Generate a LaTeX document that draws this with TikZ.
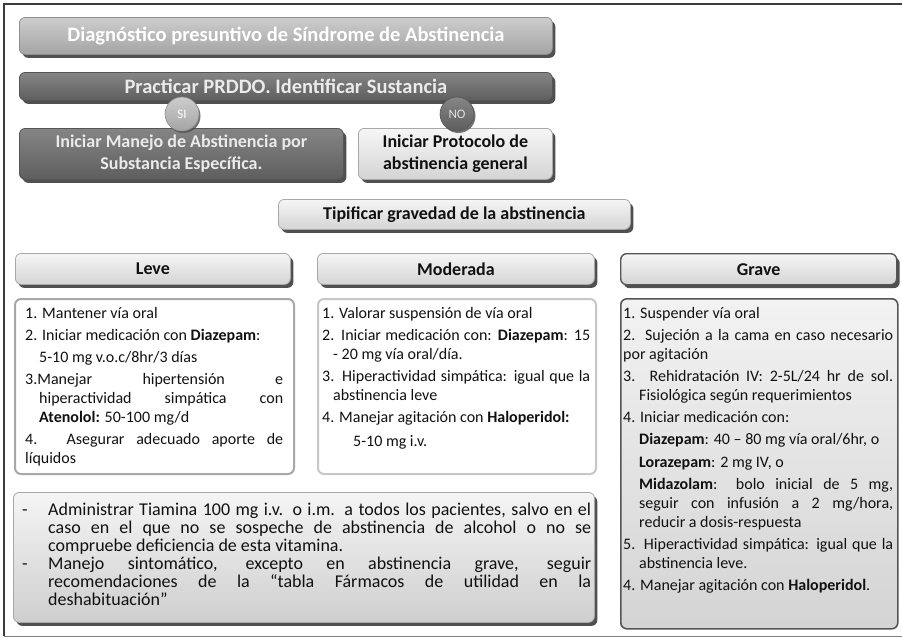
\documentclass[tikz,border=0pt]{standalone}
\usepackage{fontspec}
\setmainfont{Carlito}
\usetikzlibrary{shadows}

\definecolor{framec}{HTML}{3C3C3C}
\definecolor{shadowc}{HTML}{505050}
\definecolor{midtop}{HTML}{CDCDCD}
\definecolor{midbot}{HTML}{A4A4A4}
\definecolor{midedge}{HTML}{8E8E8E}
\definecolor{darktop}{HTML}{858585}
\definecolor{darkbot}{HTML}{5E5E5E}
\definecolor{darkedge}{HTML}{555555}
\definecolor{lighttop}{HTML}{F6F6F6}
\definecolor{lightbot}{HTML}{D4D4D4}
\definecolor{lightedge}{HTML}{A8A8A8}
\definecolor{inkc}{HTML}{111111}

\newcommand\hangby[1]{\hangindent=#1\hangafter=1\relax}
\newcommand\bodyfont{\fontsize{16}{19}\selectfont\setlength\parskip{3.2pt}}

\tikzset{
  panel/.style={rectangle, rounded corners=6pt, inner sep=0pt, anchor=north west, line width=0.8pt},
  raised/.style={panel, drop shadow={shadow xshift=3pt, shadow yshift=-3.5pt, fill=shadowc, opacity=1}},
  midbox/.style={raised, draw=midedge, top color=midtop, bottom color=midbot, text=white},
  darkbox/.style={raised, draw=darkedge, top color=darktop, bottom color=darkbot, text=white!92!black},
  lightbox/.style={raised, draw=lightedge, top color=lighttop, bottom color=lightbot, text=inkc},
  titlefont/.style={font=\bfseries\fontsize{20.5}{24}\selectfont},
  subfont/.style={font=\bfseries\fontsize{18}{22}\selectfont, align=center},
  headfont/.style={font=\bfseries\fontsize{18}{22}\selectfont},
  badge/.style={circle, minimum size=34pt, inner sep=0pt, line width=0.6pt,
    font=\fontsize{13}{15}\selectfont,
    drop shadow={shadow xshift=1.5pt, shadow yshift=-2pt, fill=shadowc, opacity=0.8}},
  textblock/.style={anchor=base west, inner sep=0pt, text=inkc},
}

\begin{document}
\begin{tikzpicture}[x=1pt, y=-1pt]
\useasboundingbox (0,0) rectangle (902,638);

% outer frame (its right side runs past the page edge)
\draw[framec, line width=1.3pt] (4,636) -- (4,4) -- (912,4);
\draw[gray, line width=1pt] (4,636) -- (912,636);

% decision chain
\node[midbox, titlefont, minimum width=533pt, minimum height=37pt] (diag) at (19,17)
  {Diagnóstico presuntivo de Síndrome de Abstinencia};
\node[darkbox, titlefont, minimum width=533pt, minimum height=28pt] (prac) at (19,72)
  {Practicar PRDDO. Identificar Sustancia};
\node[darkbox, subfont, minimum width=324pt, minimum height=51pt] (manejo) at (19,128)
  {Iniciar Manejo de Abstinencia por\\Substancia Específica.};
\node[lightbox, subfont, minimum width=194pt, minimum height=51pt] (proto) at (358,128)
  {Iniciar Protocolo de\\abstinencia general};
\node[badge, draw=midedge, top color=midtop, bottom color=midbot, text=white] (si) at (182,114) {SI};
\node[badge, draw=darkedge, top color=darktop, bottom color=darkbot, text=white!88!black] (no) at (457,114) {NO};

% severity
\node[lightbox, headfont, minimum width=352pt, minimum height=30pt] (tipif) at (278,199)
  {Tipificar gravedad de la abstinencia};
\node[lightbox, headfont, minimum width=275pt, minimum height=31pt] (leveH) at (15,253) {Leve};
\node[lightbox, headfont, minimum width=277pt, minimum height=31pt] (modH) at (317,253) {Moderada};
\node[lightbox, headfont, draw=darkedge, line width=1.4pt, minimum width=276pt, minimum height=31pt] (graveH) at (620,253) {Grave};

% content panels
\node[panel, draw=lightedge, line width=2pt, fill=white, minimum width=279pt, minimum height=175pt] (leveB) at (14,298) {};
\node[panel, draw=black!22, line width=2pt, fill=white, minimum width=278pt, minimum height=175pt] (modB) at (317,298) {};
\node[panel, draw=darkedge, line width=1.6pt, top color=white!95!black, bottom color=black!17, minimum width=277pt, minimum height=330pt] (graveB) at (620,298) {};
\node[raised, draw=lightedge, top color=white!96!black, bottom color=black!19, minimum width=581pt, minimum height=130pt] (notes) at (13,492) {};

\node[textblock] (leveT) at (25,318) {\begin{minipage}[t]{258pt}\bodyfont
1. Mantener vía oral\par
2. Iniciar medicación con \textbf{Diazepam}:\par
\hspace*{14pt}5-10 mg v.o.c/8hr/3 días\par
\hangby{14pt}3.Manejar hipertensión e\linebreak hiperactividad simpática con\linebreak \textbf{Atenolol:} 50-100 mg/d\par
4. Asegurar adecuado aporte de\linebreak líquidos
\end{minipage}};

\node[textblock] (modT) at (322,318) {\begin{minipage}[t]{268pt}\bodyfont
1. Valorar suspensión de vía oral\par
\hangby{11pt}2. Iniciar medicación con: \textbf{Diazepam}: 15\linebreak - 20 mg vía oral/día.\par
\hangby{11pt}3. Hiperactividad simpática: igual que la\linebreak abstinencia leve\par
4. Manejar agitación con \textbf{Haloperidol:}\par
\vspace{2pt}\hspace*{31pt}5-10 mg i.v.
\end{minipage}};

\node[textblock] (graveT) at (623,318) {\begin{minipage}[t]{270pt}\bodyfont
1. Suspender vía oral\par
2. Sujeción a la cama en caso necesario\linebreak por agitación\par
\hangby{16pt}3. Rehidratación IV: 2-5L/24 hr de sol.\linebreak Fisiológica según requerimientos\par
4. Iniciar medicación con:\par
\hspace*{16pt}\textbf{Diazepam}: 40 – 80 mg vía oral/6hr, o\par
\hspace*{16pt}\textbf{Lorazepam}: 2 mg IV, o\par
\hangindent=16pt\hangafter=0\relax \textbf{Midazolam}: bolo inicial de 5 mg,\linebreak seguir con infusión a 2 mg/hora,\linebreak reducir a dosis-respuesta\par
\hangby{16pt}5. Hiperactividad simpática: igual que la\linebreak abstinencia leve.\par
4. Manejar agitación con \textbf{Haloperidol}.
\end{minipage}};

\node[textblock] (notesT) at (22,515) {\begin{minipage}[t]{569pt}\fontsize{18}{18}\selectfont
\hangby{26pt}\makebox[26pt][l]{-}Administrar Tiamina 100 mg i.v. o i.m. a todos los pacientes, salvo en el\linebreak caso en el que no se sospeche de abstinencia de alcohol o no se\linebreak compruebe deficiencia de esta vitamina.\par
\hangby{26pt}\makebox[26pt][l]{-}Manejo sintomático, excepto en abstinencia grave, seguir\linebreak recomendaciones de la “tabla Fármacos de utilidad en la\linebreak deshabituación”
\end{minipage}};
\end{tikzpicture}
\end{document}
